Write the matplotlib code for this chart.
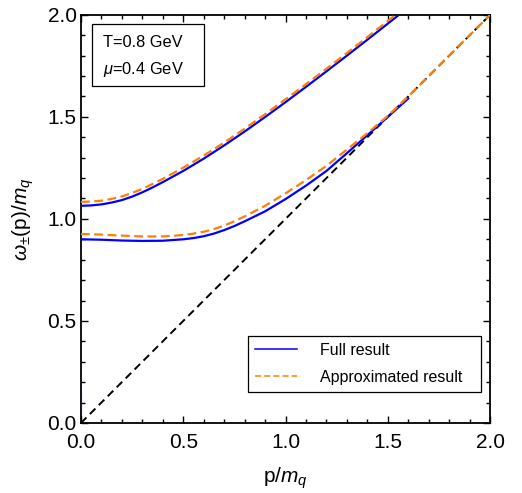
import matplotlib
matplotlib.use("Agg")
from matplotlib import pyplot as plt
from matplotlib.patches import Rectangle
from matplotlib.ticker import MultipleLocator

plt.rcParams['font.family'] = ['Liberation Sans', 'DejaVu Sans']
plt.rcParams['mathtext.fontset'] = 'custom'
plt.rcParams['mathtext.rm'] = 'Liberation Sans'
plt.rcParams['mathtext.it'] = 'Liberation Sans:italic'

# ---- data ----
p_up = [0.0, 0.05, 0.1, 0.15, 0.2, 0.25, 0.3, 0.35, 0.4, 0.5, 0.6, 0.7, 0.8, 0.9,
        1.0, 1.1, 1.2, 1.3, 1.4, 1.5, 1.6]
full_up = [1.064, 1.066, 1.071, 1.080, 1.092, 1.109, 1.130, 1.154, 1.180, 1.235,
           1.295, 1.360, 1.428, 1.499, 1.572, 1.647, 1.723, 1.800, 1.878, 1.957, 2.036]
approx_up = [1.083, 1.085, 1.089, 1.098, 1.110, 1.127, 1.147, 1.171, 1.196, 1.251,
             1.310, 1.374, 1.442, 1.513, 1.586, 1.660, 1.736, 1.813, 1.891, 1.970, 2.050]

p_low = [0.0, 0.1, 0.2, 0.3, 0.4, 0.5, 0.55, 0.6, 0.65, 0.7, 0.75, 0.8, 0.9,
         1.0, 1.1, 1.2, 1.3, 1.4, 1.5, 1.6]
full_low = [0.900, 0.898, 0.894, 0.892, 0.893, 0.900, 0.906, 0.915, 0.928, 0.945,
            0.965, 0.988, 1.037, 1.097, 1.163, 1.235, 1.322, 1.410, 1.500, 1.590]

p_low_apx = [0.0, 0.1, 0.2, 0.3, 0.4, 0.5, 0.55, 0.6, 0.65, 0.7, 0.75, 0.8, 0.9,
             1.0, 1.1, 1.2, 1.3, 1.4, 1.5, 1.6, 1.7, 1.8, 1.9, 2.0]
approx_low = [0.926, 0.923, 0.918, 0.914, 0.914, 0.921, 0.928, 0.937, 0.950, 0.967,
              0.988, 1.012, 1.064, 1.125, 1.190, 1.260, 1.340, 1.420, 1.505, 1.600,
              1.700, 1.800, 1.900, 2.000]

p_tiny = [0.0, 0.0]
full_tiny = [0.05, 0.15]

p_cone = [0.0, 2.0]
w_cone = [0.0, 2.0]

blue = '#0000ff'
orange = '#ff8000'

fig = plt.figure(figsize=(5.22, 4.93), dpi=100)
ax = fig.add_axes([0.155, 0.142, 0.784, 0.828])

ax.plot(p_cone, w_cone, color='black', ls=(0, (4, 2.5)), lw=1.4, zorder=2)
ax.plot(p_up, full_up, color=blue, lw=1.6, zorder=3, label='Full result')
ax.plot(p_low, full_low, color=blue, lw=1.6, zorder=3)
ax.plot(p_tiny, full_tiny, color=blue, lw=0.8, zorder=3)
ax.plot(p_up, approx_up, color=orange, lw=1.6, ls=(0, (4, 2)), zorder=4,
        label='Approximated result')
ax.plot(p_low_apx, approx_low, color=orange, lw=1.6, ls=(0, (4, 2)), zorder=4)

ax.set_xlim(0, 2)
ax.set_ylim(0, 2)
ax.xaxis.set_major_locator(MultipleLocator(0.5))
ax.xaxis.set_minor_locator(MultipleLocator(0.1))
ax.yaxis.set_major_locator(MultipleLocator(0.5))
ax.yaxis.set_minor_locator(MultipleLocator(0.1))
ax.tick_params(which='both', direction='in', top=True, right=True, labelsize=15, width=1)
ax.tick_params(which='major', length=5)
ax.tick_params(which='minor', length=3)
ax.tick_params(axis='x', pad=7)
ax.tick_params(axis='y', pad=3)
for s in ax.spines.values():
    s.set_linewidth(1.3)

ax.set_xlabel('p/$m_q$', fontsize=15, labelpad=10)
ax.set_ylabel(r'$\omega_{\pm}$(p)/$m_q$', fontsize=15, labelpad=8)

# parameter box
ax.add_patch(Rectangle((0.027, 0.826), 0.273, 0.152, transform=ax.transAxes,
                       fill=False, ec='black', lw=0.9, zorder=5))
ax.text(0.054, 0.931, 'T=0.8 GeV', transform=ax.transAxes, fontsize=11.8, va='center')
ax.text(0.054, 0.865, r'$\mu$=0.4 GeV', transform=ax.transAxes, fontsize=11.8, va='center')

leg = ax.legend(loc='lower left', bbox_to_anchor=(0.408, 0.076, 0.57, 0.172),
                mode='expand', fontsize=11.5, handlelength=2.6, handletextpad=1.45,
                borderaxespad=0, borderpad=0.45, labelspacing=0.75,
                fancybox=False, framealpha=1)
leg.get_frame().set_edgecolor('black')
leg.get_frame().set_linewidth(0.9)
for line in leg.get_lines():
    line.set_linewidth(1.1)

plt.savefig('out.png', dpi=100)
